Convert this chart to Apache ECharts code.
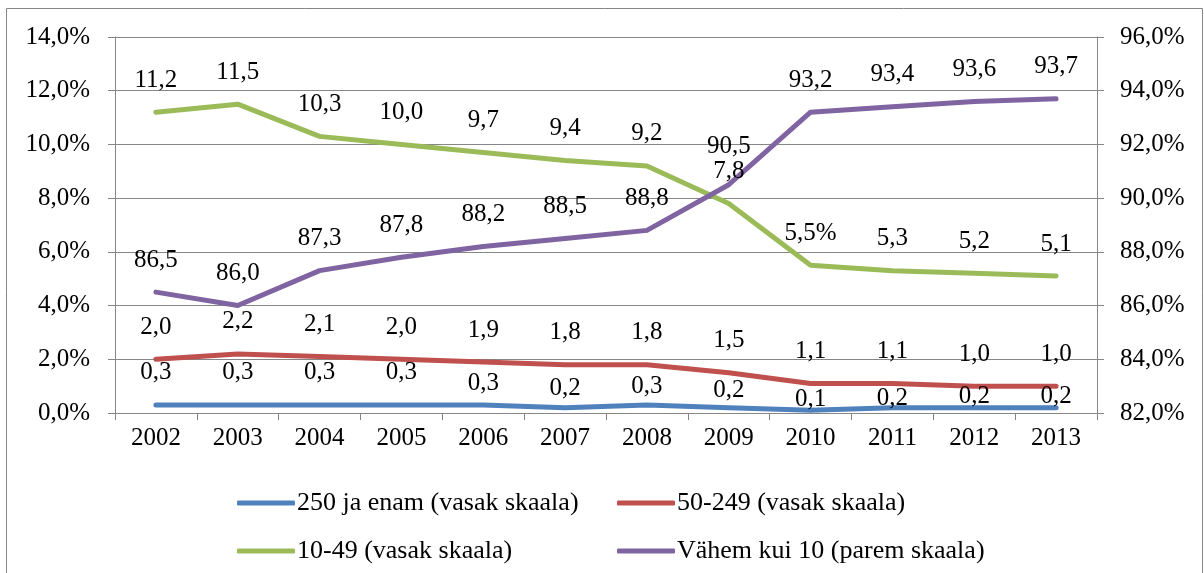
<!DOCTYPE html>
<html>
<head>
<meta charset="utf-8">
<script src="https://cdn.jsdelivr.net/npm/echarts@6/dist/echarts.min.js"></script>
<style>
html,body{margin:0;padding:0;background:#fff;}
#chart{width:1204px;height:573px;}
</style>
</head>
<body>
<div id="chart"></div>
<script>
var years = ['2002','2003','2004','2005','2006','2007','2008','2009','2010','2011','2012','2013'];
var leftTicks = [0,2,4,6,8,10,12,14];
var rightTicks = [82,84,86,88,90,92,94,96];
var seriesNames = ['250 ja enam (vasak skaala)','50-249 (vasak skaala)','10-49 (vasak skaala)','Vähem kui 10 (parem skaala)'];
var large = [0.3,0.3,0.3,0.3,0.3,0.2,0.3,0.2,0.1,0.2,0.2,0.2];
var medium = [2.0,2.2,2.1,2.0,1.9,1.8,1.8,1.5,1.1,1.1,1.0,1.0];
var small = [11.2,11.5,10.3,10.0,9.7,9.4,9.2,7.8,5.5,5.3,5.2,5.1];
var micro = [86.5,86.0,87.3,87.8,88.2,88.5,88.8,90.5,93.2,93.4,93.6,93.7];

// label placement tweaks (styles, kept apart from values)
var largeLabelDist = [20,20,20,20,9,6,6,4,-2,-4,-2,-2];
var microLabelDist = [19,19,19,19,19,19,19,25,19,19,19,19];

var FONT = 'Liberation Serif';
var colors = ['#4F81BD','#C0504D','#9BBB59','#8064A2'];

function fmt(v){ return v.toFixed(1).replace('.', ','); }

function build(values, dists, pctIdx){
  return values.map(function(v,i){
    var item = {value: v};
    var lab = {};
    if (dists) lab.distance = dists[i];
    if (pctIdx === i) lab.formatter = fmt(v) + '%';
    item.label = lab;
    return item;
  });
}

function lineSeries(name, data, color, yIdx){
  return {
    name: name,
    type: 'line',
    yAxisIndex: yIdx,
    data: data,
    symbol: 'circle',
    symbolSize: 1,
    itemStyle: {color: color},
    lineStyle: {color: color, width: 5, cap: 'round', join: 'round'},
    emphasis: {disabled: true},
    animation: false,
    label: {
      show: true,
      position: 'top',
      distance: 19,
      color: '#000',
      fontFamily: FONT,
      fontSize: 25,
      formatter: function(p){ return fmt(p.value); }
    }
  };
}

var axisGray = '#868686';
var chart = echarts.init(document.getElementById('chart'), null, {renderer:'canvas'});
chart.setOption({
  backgroundColor: '#fff',
  animation: false,
  textStyle: {fontFamily: FONT},
  graphic: [{
    type: 'rect',
    shape: {x: 6.5, y: 8.5, width: 1196, height: 600},
    style: {fill: 'none', stroke: axisGray, lineWidth: 1},
    silent: true
  }],
  grid: {left: 115, right: 107, top: 37, bottom: 160},
  legend: [{
    orient: 'vertical',
    left: 232, top: 485,
    itemWidth: 58, itemHeight: 5, itemGap: 22,
    icon: 'roundRect',
    textStyle: {fontFamily: FONT, fontSize: 26, color: '#000', lineHeight: 26, padding: [0,0,0,-3]},
    data: [seriesNames[0], seriesNames[2]],
    selectedMode: false
  },{
    orient: 'vertical',
    left: 612, top: 485,
    itemWidth: 58, itemHeight: 5, itemGap: 22,
    icon: 'roundRect',
    textStyle: {fontFamily: FONT, fontSize: 26, color: '#000', lineHeight: 26, padding: [0,0,0,-3]},
    data: [seriesNames[1], seriesNames[3]],
    selectedMode: false
  }],
  xAxis: {
    type: 'category',
    data: years,
    boundaryGap: true,
    axisLine: {lineStyle: {color: axisGray, width: 1}},
    axisTick: {show: true, length: 7, interval: 0, lineStyle: {color: axisGray}},
    axisLabel: {color: '#000', fontFamily: FONT, fontSize: 25, margin: 13, interval: 0},
    splitLine: {show: false}
  },
  yAxis: [{
    type: 'value',
    min: leftTicks[0], max: leftTicks[leftTicks.length-1], interval: 2,
    position: 'left',
    axisLine: {show: true, lineStyle: {color: axisGray, width: 1}},
    axisTick: {show: true, length: 7, lineStyle: {color: axisGray}},
    axisLabel: {color: '#000', fontFamily: FONT, fontSize: 25, margin: 25,
      formatter: function(v){ return fmt(v) + '%'; }},
    splitLine: {show: true, lineStyle: {color: axisGray, width: 1}}
  },{
    type: 'value',
    min: rightTicks[0], max: rightTicks[rightTicks.length-1], interval: 2,
    position: 'right',
    axisLine: {show: true, lineStyle: {color: axisGray, width: 1}},
    axisTick: {show: true, length: 7, lineStyle: {color: axisGray}},
    axisLabel: {color: '#000', fontFamily: FONT, fontSize: 25, margin: 23,
      formatter: function(v){ return fmt(v) + '%'; }},
    splitLine: {show: false}
  }],
  series: [
    lineSeries(seriesNames[0], build(large, largeLabelDist), colors[0], 0),
    lineSeries(seriesNames[1], build(medium), colors[1], 0),
    lineSeries(seriesNames[2], build(small, null, 8), colors[2], 0),
    lineSeries(seriesNames[3], build(micro, microLabelDist), colors[3], 1)
  ]
});
</script>
</body>
</html>
